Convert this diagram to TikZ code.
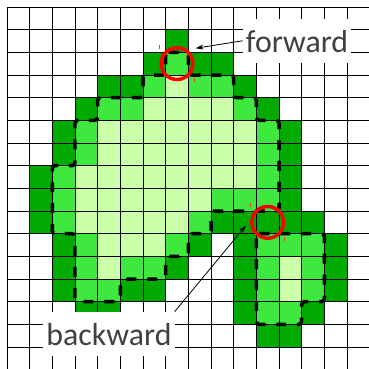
\documentclass[tikz,border=0pt]{standalone}
\usepackage{fontspec}
\newfontfamily\labelfont{Carlito}
\usepackage{xcolor}
\definecolor{outgreen}{RGB}{0,170,0}
\definecolor{ingreen}{RGB}{62,232,62}
\definecolor{coregreen}{RGB}{204,255,170}
\definecolor{labelgray}{RGB}{64,64,64}
\usepackage{tikz}
\usetikzlibrary{arrows.meta}

\begin{document}
\begin{tikzpicture}[x=0.8cm, y=-0.8cm, >={Stealth[length=8pt, width=5pt]},
  cellline/.style={black, line width=0.9pt},
  front/.style={black, line width=3.5pt, dash pattern=on 10pt off 11pt, rounded corners=3pt},
  ring/.style={red, line width=3.5pt},
  tick/.style={red!80, line width=0.8pt},
  labelbox/.style={fill=white, inner xsep=3pt, inner ysep=0pt, text height=34pt, text depth=10pt,
    text=labelgray, font=\labelfont\fontsize{32}{38}\selectfont}]
\useasboundingbox (-0.309,-0.309) rectangle (15.97,15.93);
\clip (-0.309,-0.309) rectangle (15.97,15.93);
% interior cells
\fill[coregreen] (7,3) rectangle (8,4) (6,4) rectangle (10,5) (4,5) rectangle (11,7)
  (3,7) rectangle (11,8) (3,8) rectangle (9,9) (3,9) rectangle (8,10)
  (4,10) rectangle (7,11) (4,11) rectangle (5,12) (12,11) rectangle (13,13);
% inner layer
\foreach \c/\r in {7/2, 6/3, 8/3, 9/3, 4/4, 5/4, 10/4, 3/5, 11/5, 3/6, 11/6, 2/7, 11/7,
  2/8, 9/8, 10/8, 11/8, 2/9, 8/9, 3/10, 7/10, 11/10, 12/10, 13/10, 3/11, 5/11, 6/11,
  11/11, 13/11, 3/12, 4/12, 11/12, 13/12, 11/13, 12/13}
  \fill[ingreen] (\c,\r) rectangle ++(1,1);
% outer layer
\foreach \c/\r in {7/1, 6/2, 8/2, 9/2, 4/3, 5/3, 10/3, 3/4, 11/4, 2/5, 12/5, 2/6, 12/6,
  1/7, 12/7, 1/8, 12/8, 1/9, 9/9, 10/9, 11/9, 12/9, 13/9, 2/10, 8/10, 10/10, 14/10,
  2/11, 7/11, 10/11, 14/11, 2/12, 5/12, 6/12, 10/12, 14/12, 3/13, 4/13, 10/13, 13/13,
  11/14, 12/14}
  \fill[outgreen] (\c,\r) rectangle ++(1,1);
% grid
\foreach \i in {0,...,16} {
  \draw[cellline] (\i,0) -- (\i,16);
  \draw[cellline] (0,\i) -- (16,\i);
}
% zero level sets
\draw[front] (7,2) -- (8,2) -- (8,3) -- (10,3) -- (10,4) -- (11,4) -- (11,5) -- (12,5)
  -- (12,9) -- (9,9) -- (9,10) -- (8,10) -- (8,11) -- (7,11) -- (7,12) -- (5,12)
  -- (5,13) -- (3,13) -- (3,10) -- (2,10) -- (2,7) -- (3,7) -- (3,5) -- (4,5)
  -- (4,4) -- (6,4) -- (6,3) -- (7,3) -- cycle;
\draw[front] (11,10) -- (14,10) -- (14,13) -- (13,13) -- (13,14) -- (11,14) -- cycle;
% marked cells
\draw[ring] (7.5,2.5) circle (0.7);
\draw[ring] (11.5,9.5) circle (0.7);
\draw[tick] (6.72,1.66) -- ++(0,0.18);
\draw[tick] (8.25,3.13) -- ++(0,0.18);
\draw[tick] (10.72,8.64) -- ++(0,0.18);
\draw[tick] (12.23,10.14) -- ++(0,0.18);
% labels
\node[labelbox, anchor=base west] (fwd) at (10.40,2.016) {forward};
\node[labelbox, anchor=base west] (bwd) at (1.60,14.94) {backward};
\coordinate (fwdtip) at (8.32,1.82);
\coordinate (bwdtip) at (10.54,9.64);
\draw[->, line width=0.8pt] (fwd.west) -- (fwdtip);
\draw[->, line width=0.8pt] (bwd.north east) -- (bwdtip);
\end{tikzpicture}
\end{document}
